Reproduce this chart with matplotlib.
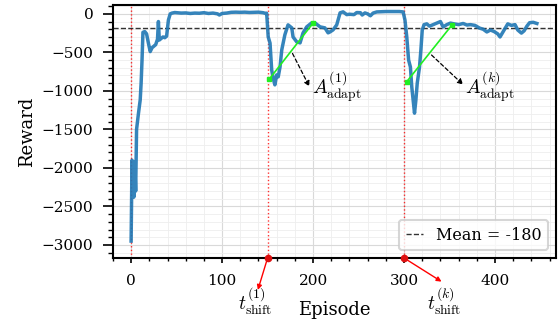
import matplotlib
matplotlib.use("Agg")
import matplotlib.pyplot as plt
from matplotlib.ticker import AutoMinorLocator

plt.rcParams['font.family'] = 'serif'
plt.rcParams['font.serif'] = ['DejaVu Serif']
plt.rcParams['mathtext.fontset'] = 'cm'
plt.rcParams['axes.linewidth'] = 1.5

# episode reward trace (smoothed)
episodes = [0, 1, 1.5, 2, 3, 4, 5, 6, 8, 10, 11, 12, 13, 15, 17, 19, 21, 23, 25, 27,
            29, 30, 31, 33, 35, 37, 39, 41, 43, 45, 48,
            50, 55, 60, 65, 70, 75, 80, 85, 90, 95, 97, 100, 105, 110, 115, 120,
            125, 130, 135, 140, 145, 148,
            149, 150.7, 152.7, 154.5, 156, 158, 160, 161.7, 163.7, 165.6, 169, 172.5,
            176.6, 178, 182, 185.7, 189, 193, 198.5, 202, 207.7, 213, 216.5, 218.7,
            222, 226, 229.7, 233, 237, 240, 245, 248, 252, 254, 257, 260, 263, 266,
            270, 275, 280, 285, 290, 295, 299,
            301, 303, 305, 307, 308.5, 310, 311.5, 313, 314.5, 317, 318.5, 320, 322,
            325, 328, 332, 336, 340, 343, 347, 351, 355, 360, 365, 369, 373, 378,
            383, 387, 391, 395, 399, 403, 405.5, 408, 411, 414, 418, 422, 425, 429,
            432, 435, 438, 442, 446]
rewards = [-2950, -1900, -2350, -1950, -2380, -1920, -2300, -1500, -1300, -1117, -900,
           -600, -240, -230, -260, -380, -490, -440, -420, -400,
           -330, -100, -340, -320, -300, -310, -290, -80, 0, 10, 17,
           15, 10, 12, 5, 10, 8, 15, 5, 10, 0, -15, 5, 10, 20, 22, 20,
           22, 18, 20, 22, 15, 5,
           9, -300, -380, -727, -830, -922, -792, -818, -688, -467, -272, -143,
           -182, -300, -363, -377, -247, -169, -117, -117, -169, -182, -247, -234,
           -208, -143, 13, 26, -10, -5, -10, 17, 15, -15, 12, 0, -25, 10,
           25, 28, 30, 30, 30, 30, 25,
           -80, -300, -600, -690, -950, -1120, -1290, -1120, -900, -690, -470, -210,
           -140, -130, -160, -140, -120, -100, -170, -140, -120, -130, -140, -125,
           -145, -140, -150, -185, -200, -235, -210, -230, -260, -300, -250, -190,
           -130, -150, -140, -210, -250, -220, -160, -115, -110, -125]

mean_reward = -180
shift_episodes = [150, 300]
marker_lines = [0, 150, 300]

# adaptation segments: (start episode, start reward) -> (end episode, end reward)
adapt1_x = [152, 200]
adapt1_y = [-845, -120]
adapt2_x = [303, 353]
adapt2_y = [-880, -140]

fig = plt.figure(figsize=(5.59, 3.24), dpi=100)
ax = fig.add_axes([0.202, 0.2037, 0.7926, 0.7809])

ax.set_xlim(-20, 467)
ax.set_ylim(-3170, 115)
ax.xaxis.set_minor_locator(AutoMinorLocator())
ax.yaxis.set_minor_locator(AutoMinorLocator())
ax.grid(which='major', color='#d9d9d9', lw=0.8)
ax.grid(which='minor', color='#eeeeee', lw=0.6)
ax.set_axisbelow(True)

for xv in marker_lines:
    ax.axvline(xv, color='red', ls=':', lw=1, alpha=0.8)

ax.plot(episodes, rewards, color='#1f77b4', lw=2.5, alpha=0.9, zorder=3)
ax.axhline(mean_reward, color='k', ls='--', lw=1, alpha=0.8,
           label='Mean = %d' % mean_reward, zorder=2)

ax.plot(adapt1_x, adapt1_y, color='#22ee22', lw=1.2, marker='s', ms=3.5, zorder=4)
ax.plot(adapt2_x, adapt2_y, color='#22ee22', lw=1.2, marker='s', ms=3.5, zorder=4)

ybot = ax.get_ylim()[0]
ax.scatter(shift_episodes, [ybot] * len(shift_episodes), color='#dd1111', s=20,
           zorder=5, clip_on=False)

# red arrows from the shift markers down to their labels
red_arrow = dict(arrowstyle='<|-', color='red', lw=1, mutation_scale=7,
                 shrinkA=0, shrinkB=2)
ax.annotate('', xy=(150, ybot), xytext=(-7, -23), textcoords='offset points',
            annotation_clip=False, arrowprops=red_arrow)
ax.annotate('', xy=(300, ybot), xytext=(27, -17), textcoords='offset points',
            annotation_clip=False, arrowprops=red_arrow)
ax.annotate(r'$t^{(1)}_{\mathrm{shift}}$', xy=(150, ybot), xytext=(-9, -31),
            textcoords='offset points', ha='center', va='center', fontsize=14,
            annotation_clip=False)
ax.annotate(r'$t^{(k)}_{\mathrm{shift}}$', xy=(300, ybot), xytext=(29, -31),
            textcoords='offset points', ha='center', va='center', fontsize=14,
            annotation_clip=False)

# dashed pointers from the adaptation segments to their labels
mid1 = (sum(adapt1_x) / 2, sum(adapt1_y) / 2)
mid2 = (sum(adapt2_x) / 2, sum(adapt2_y) / 2)
black_arrow = dict(arrowstyle='-|>', color='k', lw=0.9, ls=(0, (3, 2)),
                   mutation_scale=8, shrinkA=2, shrinkB=0)
ax.annotate('', xy=(196, -945), xytext=mid1, arrowprops=black_arrow)
ax.annotate('', xy=(365, -920), xytext=mid2, arrowprops=black_arrow)
ax.text(199, -950, r'$A^{(1)}_{\mathrm{adapt}}$', ha='left', va='center', fontsize=14)
ax.text(367, -950, r'$A^{(k)}_{\mathrm{adapt}}$', ha='left', va='center', fontsize=14)

ax.tick_params(labelsize=11, width=1.2)
ax.tick_params(axis='y', which='major', length=7, pad=7)
ax.tick_params(axis='y', which='minor', length=3.5, width=1)
ax.tick_params(axis='x', which='major', length=3.5, pad=8)
ax.tick_params(axis='x', which='minor', length=2.5, width=1)
ax.set_xlabel('Episode', fontsize=13)
ax.set_ylabel('Reward', fontsize=13)
ax.xaxis.set_label_coords(0.5, -0.17)
ax.yaxis.set_label_coords(-0.174, 0.5)
leg = ax.legend(loc='lower right', fontsize=11.5, handlelength=1.1)
leg.get_frame().set_linewidth(1.5)

fig.savefig('out.png', dpi=100)
